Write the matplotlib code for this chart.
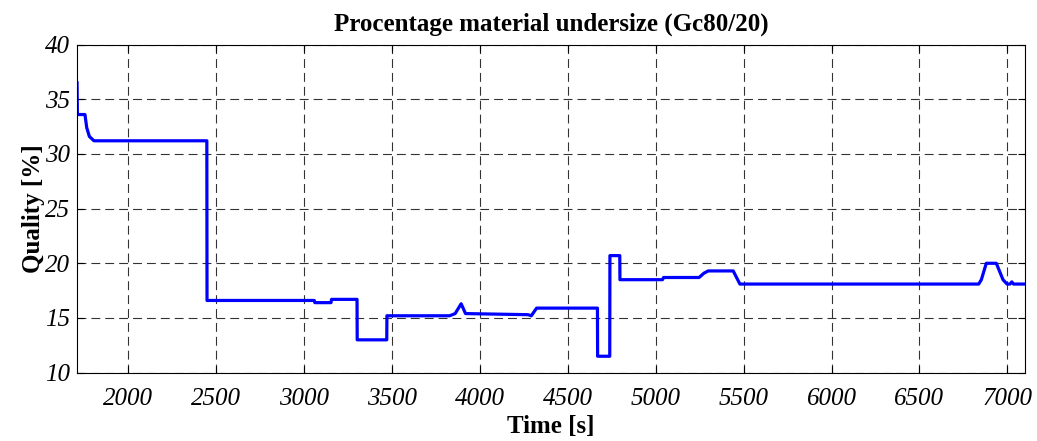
import matplotlib.pyplot as plt

plt.rcParams["font.family"] = ["Liberation Serif", "DejaVu Serif"]

# trace: time [s] and quality [%]
time_s = [1710, 1712, 1755, 1765, 1780, 1806, 2448, 2449, 3059, 3062, 3154, 3157,
          3302, 3303, 3471, 3472, 3828, 3860, 3894, 3919, 4274, 4293, 4323,
          4669, 4670, 4739, 4740, 4796, 4797, 5039, 5045, 5247, 5275, 5299,
          5441, 5479, 6837, 6852, 6880, 6937, 6975, 6998, 7015, 7025, 7035, 7100]
quality = [36.5, 33.6, 33.6, 32.4, 31.6, 31.2, 31.2, 16.6, 16.6, 16.4, 16.4, 16.7,
           16.7, 13.0, 13.0, 15.2, 15.2, 15.4, 16.3, 15.4, 15.3, 15.2, 15.9,
           15.9, 11.5, 11.5, 20.7, 20.7, 18.5, 18.5, 18.7, 18.7, 19.1, 19.3,
           19.3, 18.1, 18.1, 18.5, 20.0, 20.0, 18.5, 18.1, 18.1, 18.3, 18.1, 18.1]

x_ticks = [2000, 2500, 3000, 3500, 4000, 4500, 5000, 5500, 6000, 6500, 7000]
y_ticks = [10, 15, 20, 25, 30, 35, 40]

fig = plt.figure(figsize=(10.37, 4.41), dpi=100)
ax = fig.add_axes([0.0743, 0.155, 0.9141, 0.744])

ax.plot(time_s, quality, color="#0000ff", linewidth=2.3)

ax.set_xlim(1710, 7100)
ax.set_ylim(10, 40)
ax.set_xticks(x_ticks)
ax.set_yticks(y_ticks)
ax.tick_params(direction="in", length=5, labelsize=18, top=True, right=True)
ax.tick_params(axis="x", pad=11)
ax.tick_params(axis="y", pad=5)
for lab in ax.get_xticklabels() + ax.get_yticklabels():
    lab.set_fontstyle("italic")
ax.grid(True, color="black", linestyle=(0, (8, 4.5)), linewidth=0.8, alpha=0.8)

ax.set_title("Procentage material undersize (Gc80/20)", fontsize=18, fontweight="bold", pad=10)
ax.set_xlabel("Time [s]", fontsize=18, fontweight="bold", labelpad=4)
ax.set_ylabel("Quality [%]", fontsize=18, fontweight="bold", labelpad=0)

fig.savefig("out.png", dpi=100)
